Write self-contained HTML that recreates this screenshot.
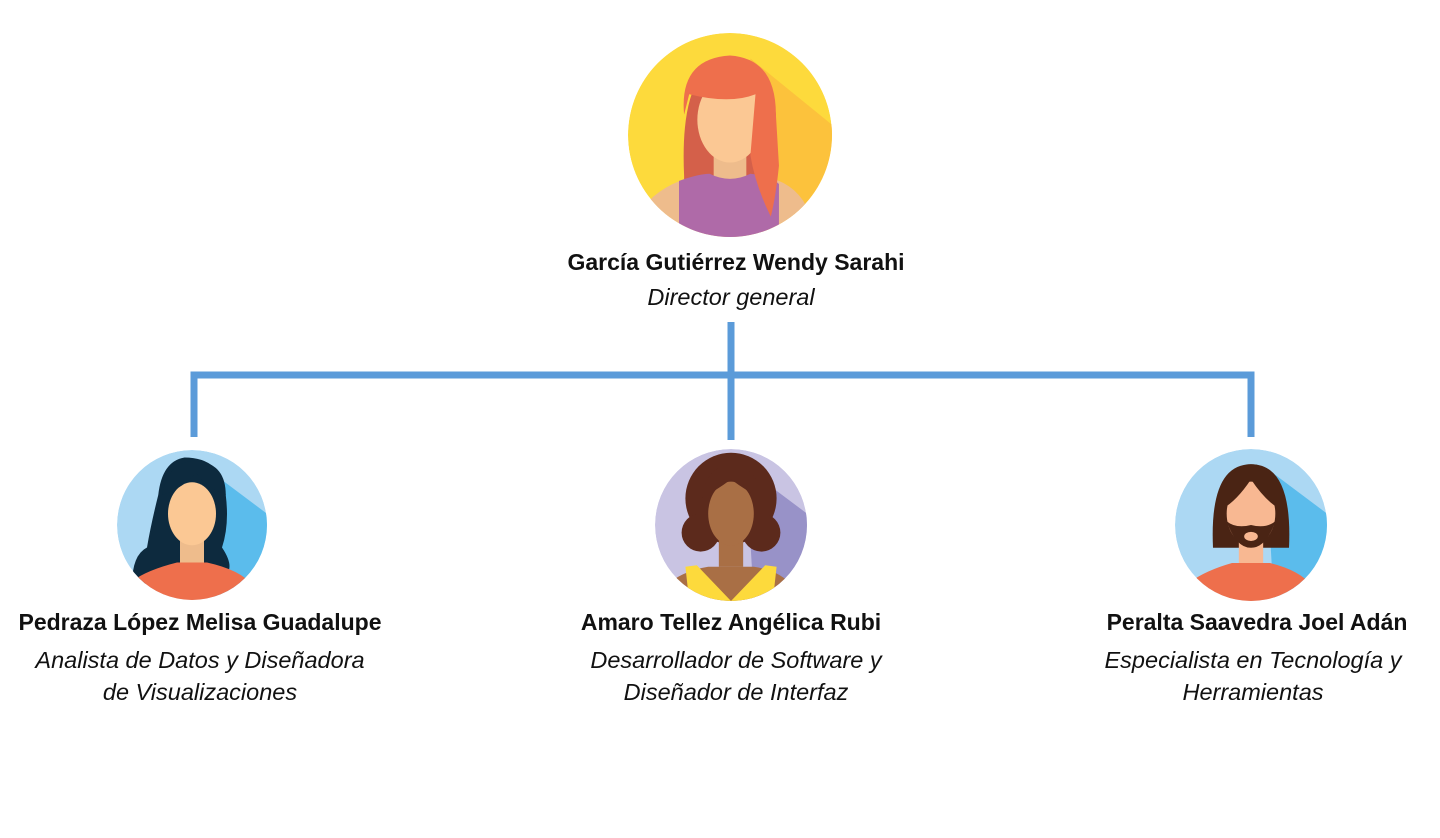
<!DOCTYPE html>
<html><head><meta charset="utf-8"><style>
html,body{margin:0;padding:0;background:#fff;width:1440px;height:838px;overflow:hidden;font-family:"Liberation Sans",sans-serif;}
.t{position:absolute;text-align:center;white-space:nowrap;color:#111;}
.n{font-weight:bold;font-size:23px;}
.r{font-style:italic;line-height:32px;font-size:23.5px;}
</style></head><body>
<svg width="1440" height="838" style="position:absolute;left:0;top:0">
<defs>
<clipPath id="c"><circle cx="0" cy="0" r="100"/></clipPath>
</defs>
<g stroke="#5b9bd9" stroke-width="7" fill="none">
<line x1="731" y1="322" x2="731" y2="440"/>
<polyline points="194,437 194,375 1251,375 1251,437"/>
</g>
<g transform="translate(730,135) scale(1.02)" clip-path="url(#c)">
<circle r="100" fill="#fdda3c"/>
<polygon points="20,-75 100,-10 100,100 30,100" fill="#fcc23c"/>
<path d="M-45,40 Q-50,-70 0,-75 Q40,-72 45,-20 L45,80 L-45,60Z" fill="#d4604a"/>
<rect x="-16" y="10" width="32" height="40" fill="#eebc8c"/>
<path d="M-100,100 L-80,65 Q-60,45 -30,40 L30,40 Q62,45 75,70 L85,100Z" fill="#eebc8c"/>
<path d="M-50,100 L-50,45 Q-30,38 -20,38 Q0,48 20,38 Q40,40 48,48 L48,100Z" fill="#af6aa8"/>
<ellipse cx="0" cy="-15" rx="32" ry="42" fill="#fbc894"/>
<path d="M-45,-20 Q-50,-75 0,-78 Q45,-75 45,-20 L48,30 Q45,60 40,80 Q25,50 20,20 L25,-40 Q0,-30 -40,-40Z" fill="#ee6f4c"/>
</g>
<g transform="translate(192,525) scale(0.75)" clip-path="url(#c)">
<circle r="100" fill="#acd8f3"/>
<polygon points="20,-75 100,-15 100,100 30,100" fill="#5bbcec"/>
<path d="M-10,-90 Q40,-90 45,-40 Q50,0 40,30 Q60,60 40,70 L-80,80 Q-80,40 -60,30 Q-55,0 -45,-40 Q-40,-85 -10,-90Z" fill="#0d2a3e"/>
<rect x="-16" y="10" width="32" height="40" fill="#eebc8c"/>
<path d="M-100,100 L-80,75 Q-60,60 -20,50 L20,50 Q65,60 80,80 L90,100Z" fill="#ee6f4c"/>
<ellipse cx="0" cy="-15" rx="32" ry="42" fill="#fbc894"/>
<path d="M-40,-40 Q-30,-90 10,-85 Q45,-80 45,-40 Q20,-50 5,-70 Q-10,-50 -40,-40Z" fill="#0d2a3e"/>
</g>
<g transform="translate(731,525) scale(0.76)" clip-path="url(#c)">
<circle r="100" fill="#c9c4e3"/>
<polygon points="20,-75 100,-15 100,100 30,100" fill="#9892c8"/>
<circle cx="0" cy="-35" r="60" fill="#5c2a1c"/>
<circle cx="-40" cy="10" r="25" fill="#5c2a1c"/>
<circle cx="40" cy="10" r="25" fill="#5c2a1c"/>
<rect x="-16" y="10" width="32" height="45" fill="#a96f45"/>
<path d="M-100,100 L-80,75 Q-60,60 -30,55 L30,55 Q65,60 80,80 L90,100Z" fill="#a96f45"/>
<path d="M-55,100 L-60,55 L-45,53 L0,100 L45,53 L60,55 L55,100Z" fill="#fdda3c"/>
<ellipse cx="0" cy="-15" rx="30" ry="42" fill="#a96f45"/>
<path d="M-40,-35 Q-30,-80 0,-78 Q35,-78 40,-35 Q20,-45 0,-60 Q-20,-45 -40,-35Z" fill="#5c2a1c"/>
</g>
<g transform="translate(1251,525) scale(0.76)" clip-path="url(#c)">
<circle r="100" fill="#acd8f3"/>
<polygon points="20,-75 100,-15 100,100 30,100" fill="#5bbcec"/>
<path d="M-50,30 Q-55,-80 0,-80 Q55,-80 50,30 L-50,30Z" fill="#4a2414"/>
<rect x="-16" y="10" width="32" height="45" fill="#f8b892"/>
<path d="M-100,100 L-80,75 Q-60,60 -25,50 L25,50 Q65,60 80,80 L90,100Z" fill="#ee6f4c"/>
<ellipse cx="0" cy="-15" rx="32" ry="42" fill="#f8b892"/>
<path d="M-32,-5 Q-20,30 0,30 Q20,30 32,-5 Q20,5 0,0 Q-20,5 -32,-5Z" fill="#4a2414"/>
<ellipse cx="0" cy="15" rx="9" ry="6" fill="#f8b892"/>
<path d="M-40,-20 Q-30,-80 0,-80 Q35,-80 40,-20 Q20,-30 0,-60 Q-20,-30 -40,-20Z" fill="#4a2414"/>
</g>
</svg>
<div class="t n" style="left:536px;width:400px;top:249px">García Gutiérrez Wendy Sarahi</div>
<div class="t r" style="left:531px;width:400px;top:281px">Director general</div>
<div class="t n" style="left:0;width:400px;top:609px">Pedraza López Melisa Guadalupe</div>
<div class="t r" style="left:0;width:400px;top:644px">Analista de Datos y Diseñadora<br>de Visualizaciones</div>
<div class="t n" style="left:531px;width:400px;top:609px">Amaro Tellez Angélica Rubi</div>
<div class="t r" style="left:536px;width:400px;top:644px">Desarrollador de Software y<br>Diseñador de Interfaz</div>
<div class="t n" style="left:1057px;width:400px;top:609px">Peralta Saavedra Joel Adán</div>
<div class="t r" style="left:1053px;width:400px;top:644px">Especialista en Tecnología y<br>Herramientas</div>
</body></html>
